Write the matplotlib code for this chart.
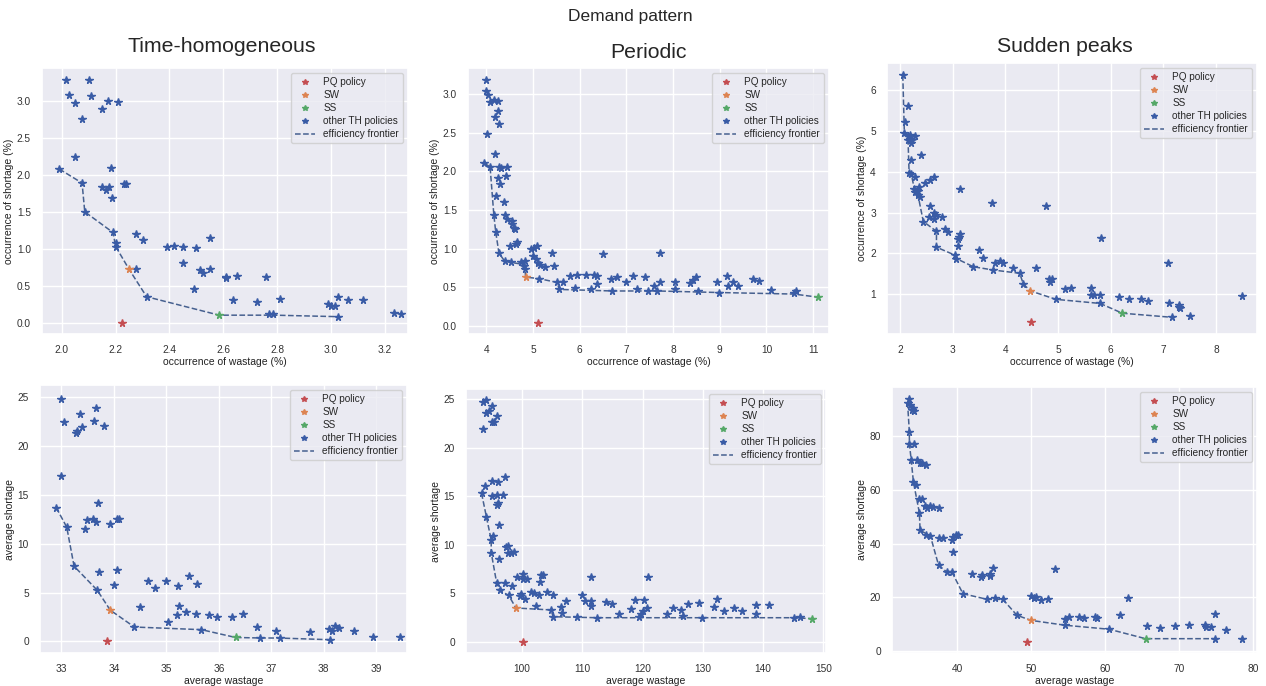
import numpy as np
import matplotlib
matplotlib.use("Agg")
import matplotlib.pyplot as plt
from matplotlib.ticker import MultipleLocator
import seaborn as sns

# ---------------- data ----------------
col_titles = ["Time-homogeneous", "Periodic", "Sudden peaks"]
sup_title = "Demand pattern"
legend_labels = ["PQ policy", "SW", "SS", "other TH policies", "efficiency frontier"]

# Top row: occurrence (%)
th_occ_other = [(2.015,3.29),(2.10,3.29),(2.027,3.08),(2.11,3.07),(2.05,2.98),(2.17,3.00),(2.21,2.99),
    (2.15,2.89),(2.075,2.76),(2.05,2.24),(2.183,2.10),(2.15,1.84),(2.165,1.80),(2.175,1.84),(2.185,1.69),
    (2.23,1.88),(2.24,1.88),(2.275,1.20),(2.30,1.12),(2.39,1.02),(2.415,1.04),(2.45,1.03),(2.50,1.01),
    (2.55,1.15),(2.45,0.80),(2.515,0.71),(2.525,0.67),(2.55,0.73),(2.49,0.46),(2.275,0.73),(2.61,0.60),
    (2.61,0.62),(2.65,0.63),(2.76,0.62),(2.635,0.30),(2.725,0.28),(2.81,0.32),(2.77,0.11),(2.785,0.11),
    (2.99,0.25),(3.00,0.23),(3.015,0.23),(3.025,0.34),(3.065,0.30),(3.12,0.30),(3.235,0.13),(3.26,0.12),
    (2.20,1.08),(2.20,1.03),(2.19,1.22),(1.99,2.08),(2.075,1.89),(2.085,1.50),(2.315,0.35),(3.025,0.08)]
th_occ_front_x = [1.99, 2.075, 2.085, 2.19, 2.20, 2.25, 2.315, 2.585, 2.79, 3.025]
th_occ_front_y = [2.08, 1.89, 1.50, 1.22, 1.03, 0.72, 0.35, 0.10, 0.10, 0.08]
th_occ_pq, th_occ_sw, th_occ_ss = (2.225, 0.0), (2.25, 0.72), (2.585, 0.10)

pe_occ_other = [(3.99,3.19),(4.0,3.04),(4.03,2.99),(4.07,2.90),(4.16,2.93),(4.26,2.91),(4.24,2.78),
    (4.19,2.71),(4.27,2.62),(4.02,2.48),(4.19,2.23),(3.95,2.11),(4.08,2.06),(4.27,2.06),(4.31,2.04),
    (4.44,2.06),(4.24,1.91),(4.29,1.84),(4.43,1.94),(4.38,1.61),(4.20,1.68),(4.16,1.44),(4.41,1.43),
    (4.45,1.38),(4.54,1.36),(4.54,1.32),(4.59,1.27),(4.61,1.25),(4.20,1.22),(4.63,1.06),(4.66,1.09),
    (4.50,1.03),(4.27,0.94),(4.39,0.84),(4.53,0.82),(4.74,0.82),(4.83,0.84),(4.81,0.78),(4.83,0.73),
    (4.95,0.99),(5.02,1.01),(5.08,1.03),(4.99,0.91),(5.06,0.86),(5.10,0.81),(5.14,0.79),(5.25,0.76),
    (5.40,0.94),(5.45,0.77),(5.13,0.61),(5.52,0.56),(5.64,0.56),(5.56,0.47),(5.80,0.64),(5.94,0.66),
    (5.89,0.49),(6.14,0.66),(6.30,0.66),(6.36,0.65),(6.36,0.54),(6.25,0.48),(6.50,0.93),(6.68,0.61),
    (6.79,0.63),(6.70,0.45),(7.00,0.57),(7.14,0.65),(7.23,0.48),(7.39,0.63),(7.47,0.45),(7.59,0.51),
    (7.66,0.45),(7.73,0.56),(7.71,0.94),(8.05,0.57),(8.04,0.47),(8.36,0.55),(8.43,0.59),(8.50,0.63),
    (8.54,0.45),(8.95,0.57),(8.98,0.43),(9.16,0.65),(9.17,0.51),(9.29,0.57),(9.39,0.52),(9.71,0.61),
    (9.84,0.58),(10.10,0.46),(10.59,0.42),(10.64,0.45)]
pe_occ_front_x = [3.95, 4.08, 4.16, 4.20, 4.27, 4.39, 4.53, 4.74, 4.83, 4.84, 5.13, 5.52, 5.56, 6.70, 7.66, 8.98, 10.59, 11.10]
pe_occ_front_y = [2.11, 2.06, 1.44, 1.22, 0.94, 0.84, 0.82, 0.80, 0.73, 0.63, 0.61, 0.56, 0.47, 0.45, 0.45, 0.43, 0.41, 0.37]
pe_occ_pq, pe_occ_sw, pe_occ_ss = (5.10, 0.04), (4.84, 0.63), (11.10, 0.37)

sp_occ_other = [(2.05,6.37),(2.15,5.61),(2.10,5.23),(2.08,4.95),(2.15,4.89),(2.18,4.90),(2.28,4.89),
    (2.18,4.81),(2.15,4.77),(2.21,4.70),(2.23,4.79),(2.39,4.41),(2.21,4.28),(2.17,3.97),(2.21,3.95),
    (2.29,3.87),(2.48,3.73),(2.56,3.80),(2.64,3.87),(2.27,3.58),(2.35,3.62),(2.34,3.54),(2.29,3.50),
    (2.34,3.42),(2.37,3.38),(3.13,3.57),(2.56,3.16),(3.75,3.23),(2.64,2.99),(2.69,2.94),(2.80,2.90),
    (2.54,2.89),(2.64,2.85),(2.44,2.78),(2.69,2.54),(2.86,2.60),(2.91,2.52),(3.13,2.48),(3.12,2.40),
    (3.10,2.36),(3.10,2.19),(2.69,2.15),(3.49,2.07),(3.58,1.88),(3.05,1.95),(3.07,1.87),(3.39,1.67),
    (3.80,1.75),(3.89,1.81),(3.96,1.77),(3.77,1.59),(4.14,1.63),(4.27,1.51),(4.34,1.25),(4.59,1.65),
    (4.77,3.17),(4.82,1.38),(4.85,1.30),(4.88,1.36),(4.96,0.87),(5.13,1.12),(5.24,1.16),(5.62,1.14),
    (5.62,0.97),(5.68,0.98),(5.82,2.37),(5.80,0.97),(5.80,0.77),(6.15,0.93),(6.35,0.87),(6.57,0.87),
    (6.71,0.84),(7.09,1.75),(7.11,0.77),(7.16,0.43),(7.30,0.72),(7.32,0.67),(7.29,0.68),(7.51,0.46),
    (8.49,0.96)]
sp_occ_front_x = [2.05, 2.08, 2.15, 2.17, 2.21, 2.27, 2.34, 2.44, 2.69, 2.69, 3.05, 3.07, 3.39, 3.77, 4.27, 4.34, 4.47, 4.96, 5.80, 6.22, 7.16]
sp_occ_front_y = [6.37, 4.95, 4.77, 3.97, 3.95, 3.58, 3.42, 2.78, 2.54, 2.15, 1.95, 1.87, 1.67, 1.59, 1.51, 1.25, 1.08, 0.87, 0.77, 0.53, 0.43]
sp_occ_pq, sp_occ_sw, sp_occ_ss = (4.48, 0.32), (4.47, 1.08), (6.22, 0.53)

# Bottom row: averages
th_avg_other = [(33.0,24.8),(33.04,22.5),(33.27,21.3),(33.29,21.5),(33.35,23.3),(33.39,22.0),(33.62,22.6),
    (33.66,23.9),(33.81,22.1),(33.0,16.9),(32.9,13.7),(33.1,11.7),(33.45,11.5),(33.48,12.4),(33.61,12.5),
    (33.66,12.2),(33.69,14.2),(33.93,12.0),(34.06,12.5),(34.10,12.5),(33.24,7.7),(33.71,7.1),(34.05,7.3),
    (34.01,5.8),(33.68,5.25),(34.39,1.47),(34.50,3.5),(34.65,6.2),(34.78,5.5),(34.99,6.2),(35.22,5.7),
    (35.04,2.0),(35.20,2.7),(35.24,3.6),(35.43,6.7),(35.38,3.0),(35.59,5.9),(35.57,2.8),(35.82,2.7),
    (35.96,2.5),(35.67,1.2),(36.26,2.5),(36.46,2.8),(36.72,1.5),(36.78,0.35),(37.09,1.06),(37.17,0.34),
    (37.74,1.0),(38.10,1.26),(38.16,1.06),(38.22,1.53),(38.30,1.36),(38.13,0.17),(38.57,1.1),(38.94,0.5),
    (39.45,0.5)]
th_avg_front_x = [32.9, 33.1, 33.24, 33.68, 33.93, 34.39, 35.67, 36.32, 36.78, 37.17, 38.13]
th_avg_front_y = [13.7, 11.7, 7.7, 5.25, 3.2, 1.47, 1.2, 0.4, 0.35, 0.34, 0.17]
th_avg_pq, th_avg_sw, th_avg_ss = (33.86, 0.0), (33.93, 3.2), (36.32, 0.4)

pe_avg_other = [(93.6,24.7),(94.1,24.9),(95.0,24.3),(94.5,23.8),(94.0,23.6),(95.8,23.3),(95.1,22.6),
    (95.4,22.6),(93.6,21.9),(97.2,17.0),(95.1,16.6),(96.0,16.5),(93.9,16.1),(93.3,15.3),(95.1,15.0),
    (95.8,15.1),(96.8,15.1),(96.0,14.3),(95.8,14.1),(94.1,12.9),(96.2,12.0),(95.2,10.9),(94.9,10.5),
    (94.9,9.2),(97.4,9.8),(97.7,9.9),(97.7,9.2),(98.2,9.2),(98.6,9.3),(96.2,8.5),(95.8,6.1),(96.3,5.3),
    (97.2,6.1),(98.4,5.8),(97.8,4.8),(99.1,6.7),(100.1,7.0),(100.2,6.5),(100.9,6.5),(99.8,4.9),(99.7,4.7),
    (100.5,4.4),(101.5,5.1),(102.0,5.0),(102.8,4.8),(102.4,3.7),(103.0,6.2),(103.2,6.9),(103.5,6.9),
    (104.2,5.1),(105.2,4.8),(104.8,3.3),(106.5,3.6),(105.2,2.6),(106.6,3.0),(107.3,4.2),(109.1,2.6),
    (109.9,4.8),(110.4,4.2),(111.5,4.2),(111.4,3.7),(111.4,6.7),(112.5,2.5),(113.9,4.1),(114.9,3.9),
    (116.1,2.9),(118.1,3.4),(118.7,4.3),(119.5,2.6),(119.8,2.9),(120.1,3.2),(120.2,4.3),(120.7,3.5),
    (120.9,6.7),(124.0,2.9),(125.1,3.5),(126.4,3.3),(126.7,2.7),(127.5,3.9),(129.3,4.0),(129.8,2.5),
    (131.8,3.6),(132.4,4.4),(133.6,3.2),(135.2,3.5),(136.5,3.2),(138.9,3.8),(138.9,2.9),(141.0,3.8),
    (145.1,2.5),(146.1,2.6)]
pe_avg_front_x = [93.3, 94.1, 94.9, 94.9, 95.8, 96.3, 97.8, 99.0, 104.8, 105.2, 112.5, 129.8, 145.1, 148.2]
pe_avg_front_y = [15.3, 12.9, 10.5, 9.2, 6.1, 5.3, 4.8, 3.5, 3.3, 2.6, 2.5, 2.5, 2.5, 2.4]
pe_avg_pq, pe_avg_sw, pe_avg_ss = (100.1, 0.0), (99.0, 3.5), (148.2, 2.4)

sp_avg_other = [(33.55,93.9),(33.3,92.4),(33.7,91.4),(34.0,90.4),(34.2,89.2),(33.9,89.6),(33.55,81.5),
    (33.55,77.2),(34.2,76.9),(33.8,71.0),(34.6,71.0),(35.0,70.1),(35.3,70.1),(35.8,69.4),(34.1,62.9),
    (34.4,61.9),(34.8,56.5),(35.3,56.7),(34.9,51.5),(35.7,54.0),(36.0,53.3),(36.4,53.9),(36.8,53.6),
    (37.5,53.4),(35.0,45.0),(35.8,43.1),(36.4,42.8),(37.5,42.1),(38.1,42.1),(39.3,41.2),(39.5,42.5),
    (39.9,43.1),(40.1,43.1),(39.4,36.9),(37.5,32.0),(38.6,29.5),(39.3,29.5),(42.0,28.9),(43.2,27.6),
    (43.4,28.2),(44.4,27.9),(44.4,28.9),(44.9,31.1),(40.8,21.4),(44.1,19.3),(45.2,19.8),(46.2,19.3),
    (48.1,13.4),(50.0,20.4),(50.4,19.8),(50.7,20.2),(51.4,18.9),(52.3,19.3),(53.2,30.7),(54.6,9.7),
    (54.6,12.1),(55.1,12.8),(56.5,12.8),(57.2,12.5),(58.7,12.8),(58.9,12.4),(60.6,8.2),(62.0,13.4),
    (63.1,19.9),(65.7,9.3),(67.5,8.8),(69.5,9.3),(71.4,9.9),(73.6,9.9),(73.7,9.0),(74.4,9.0),(74.9,14.0),
    (74.9,4.7),(76.4,7.8),(78.5,4.7)]
sp_avg_front_x = [33.3, 33.55, 33.55, 33.8, 34.1, 34.9, 35.0, 36.4, 37.5, 38.6, 39.3, 40.8, 44.1, 46.2, 48.1, 50.0, 54.6, 60.6, 65.5, 74.9]
sp_avg_front_y = [92.4, 81.5, 77.2, 71.0, 62.9, 51.5, 45.0, 42.8, 32.0, 29.5, 29.5, 21.4, 19.3, 19.3, 13.4, 11.5, 9.7, 8.2, 4.7, 4.7]
sp_avg_pq, sp_avg_sw, sp_avg_ss = (49.4, 3.5), (50.0, 11.5), (65.5, 4.7)

# ---------------- style ----------------
sns.set_theme(style="darkgrid")
plt.rcParams["font.family"] = ["Liberation Sans", "DejaVu Sans"]

C_PQ, C_SW, C_SS = "#C44E52", "#DD8452", "#55A868"
C_OTHER = "#3A5CA6"
C_FRONT = "#46608F"

W, H = 1266, 686
fig = plt.figure(figsize=(W / 100, H / 100), dpi=100)

def box(l, t, r, b):
    return [l / W, 1 - b / H, (r - l) / W, (b - t) / H]

panels = [
    dict(pos=box(42, 68, 408, 334), other=th_occ_other, fx=th_occ_front_x, fy=th_occ_front_y,
         pq=th_occ_pq, sw=th_occ_sw, ss=th_occ_ss, xl=(1.926, 3.287), yl=(-0.155, 3.448),
         xs=0.2, ys=0.5, xlab="occurrence of wastage (%)", ylab="occurrence of shortage (%)"),
    dict(pos=box(468, 68, 829, 334), other=pe_occ_other, fx=pe_occ_front_x, fy=pe_occ_front_y,
         pq=pe_occ_pq, sw=pe_occ_sw, ss=pe_occ_ss, xl=(3.607, 11.34), yl=(-0.108, 3.342),
         xs=1, ys=0.5, xlab="occurrence of wastage (%)", ylab="occurrence of shortage (%)"),
    dict(pos=box(887, 63, 1257, 334), other=sp_occ_other, fx=sp_occ_front_x, fy=sp_occ_front_y,
         pq=sp_occ_pq, sw=sp_occ_sw, ss=sp_occ_ss, xl=(1.75, 8.78), yl=(0.02, 6.67),
         xs=1, ys=1, xlab="occurrence of wastage (%)", ylab="occurrence of shortage (%)"),
    dict(pos=box(40, 385, 407, 653), other=th_avg_other, fx=th_avg_front_x, fy=th_avg_front_y,
         pq=th_avg_pq, sw=th_avg_sw, ss=th_avg_ss, xl=(32.59, 39.59), yl=(-1.19, 26.26),
         xs=1, ys=5, xlab="average wastage", ylab="average shortage"),
    dict(pos=box(466, 389, 826, 653), other=pe_avg_other, fx=pe_avg_front_x, fy=pe_avg_front_y,
         pq=pe_avg_pq, sw=pe_avg_sw, ss=pe_avg_ss, xl=(90.72, 150.44), yl=(-1.13, 26.03),
         xs=10, ys=5, xlab="average wastage", ylab="average shortage"),
    dict(pos=box(892, 387, 1257, 653), other=sp_avg_other, fx=sp_avg_front_x, fy=sp_avg_front_y,
         pq=sp_avg_pq, sw=sp_avg_sw, ss=sp_avg_ss, xl=(31.2, 80.58), yl=(-0.62, 98.2),
         xs=10, ys=20, xlab="average wastage", ylab="average shortage"),
]

for p in panels:
    ax = fig.add_axes(p["pos"])
    ox, oy = np.array(p["other"]).T
    ms = 5.3
    ax.plot(*p["pq"], ls="none", marker="*", ms=ms, color=C_PQ, zorder=5, label=legend_labels[0])
    ax.plot(*p["sw"], ls="none", marker="*", ms=ms, color=C_SW, zorder=5, label=legend_labels[1])
    ax.plot(*p["ss"], ls="none", marker="*", ms=ms, color=C_SS, zorder=5, label=legend_labels[2])
    ax.plot(ox, oy, ls="none", marker="*", ms=ms, color=C_OTHER, zorder=3, label=legend_labels[3])
    ax.plot(p["fx"], p["fy"], ls="--", lw=1.1, color=C_FRONT, zorder=2, label=legend_labels[4])
    ax.set_xlim(*p["xl"])
    ax.set_ylim(*p["yl"])
    ax.xaxis.set_major_locator(MultipleLocator(p["xs"]))
    ax.yaxis.set_major_locator(MultipleLocator(p["ys"]))
    ax.tick_params(labelsize=7.3, pad=2, colors="#333333")
    ax.set_xlabel(p["xlab"], fontsize=7.5, labelpad=1.5, color="#222222")
    ax.set_ylabel(p["ylab"], fontsize=7.5, labelpad=2, color="#222222")
    ax.legend(loc="upper right", fontsize=7.2, markerscale=0.75, handlelength=2.0,
              borderpad=0.4, labelspacing=0.3, handletextpad=0.8, framealpha=0.8)

fig.text(630 / W, 1 - 16 / H, sup_title, ha="center", va="center", fontsize=12.5)
for cx, cy, t in zip([222, 648, 1065], [47, 52, 47], col_titles):
    fig.text(cx / W, 1 - cy / H, t, ha="center", va="center", fontsize=15.3)

fig.savefig("out.png", dpi=100)
